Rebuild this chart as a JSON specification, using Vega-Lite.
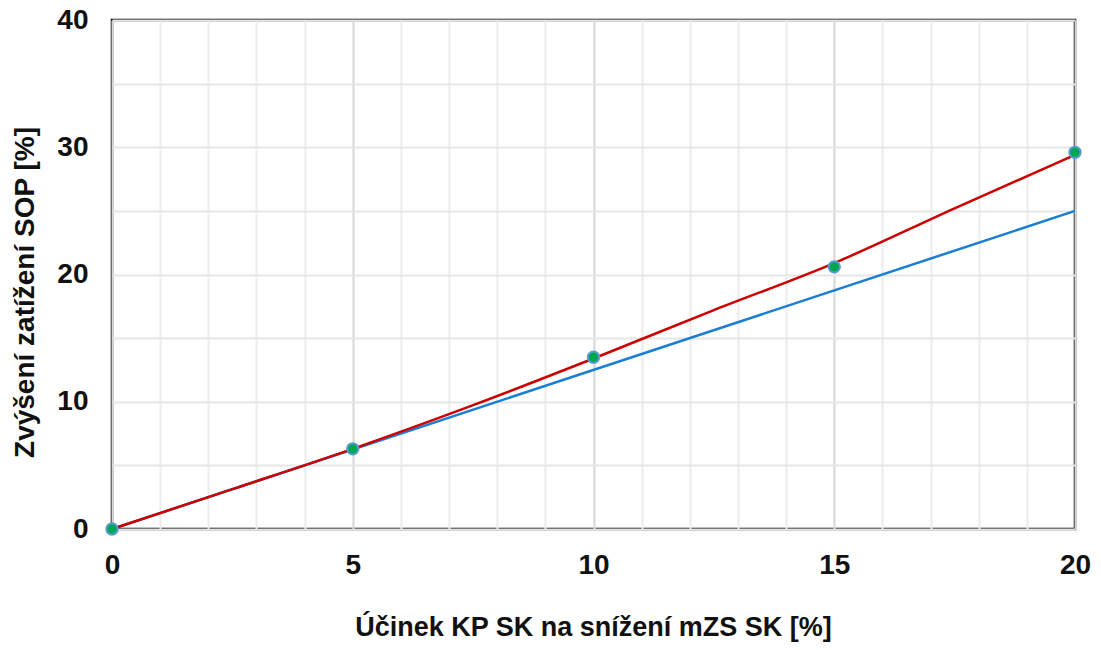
{
  "$schema": "https://vega.github.io/schema/vega-lite/v6.json",
  "autosize": "none",
  "width": 963,
  "height": 509,
  "padding": {"left": 112, "top": 20, "right": 26, "bottom": 121},
  "background": "white",
  "config": {
    "view": {"stroke": "#000000", "strokeWidth": 2.5},
    "font": "Liberation Sans",
    "axis": {
      "labelFont": "Liberation Sans",
      "titleFont": "Liberation Sans",
      "labelFontWeight": "bold",
      "titleFontWeight": "bold",
      "labelColor": "#111111",
      "titleColor": "#111111",
      "domain": false,
      "ticks": false,
      "tickSize": 0,
      "gridWidth": 2,
      "labelFlush": false,
      "labelOverlap": false
    }
  },
  "datasets": {
    "blue": [
      {"x": 0, "y": 0},
      {"x": 20, "y": 25}
    ],
    "red": [
      {"x": 0, "y": 0},
      {"x": 2.5, "y": 3.13},
      {"x": 5, "y": 6.3},
      {"x": 7.5, "y": 9.73},
      {"x": 10, "y": 13.4},
      {"x": 12.5, "y": 17.2},
      {"x": 15, "y": 20.9},
      {"x": 17.5, "y": 25.2},
      {"x": 20, "y": 29.4}
    ],
    "pts": [
      {"x": 0, "y": 0},
      {"x": 5, "y": 6.3},
      {"x": 10, "y": 13.5},
      {"x": 15, "y": 20.6},
      {"x": 20, "y": 29.6}
    ]
  },
  "layer": [
    {
      "data": {"name": "blue"},
      "mark": {"type": "line", "color": "#1a7fd4", "strokeWidth": 2.5, "clip": false},
      "encoding": {
        "x": {
          "field": "x", "type": "quantitative",
          "scale": {"domain": [0, 20], "nice": false, "zero": false},
          "axis": {
            "values": [0,1,2,3,4,5,6,7,8,9,10,11,12,13,14,15,16,17,18,19,20],
            "labelExpr": "datum.value % 5 === 0 ? datum.label : ''",
            "labelFontSize": 28,
            "labelPadding": 44,
            "labelBaseline": "alphabetic",
            "gridColor": {"condition": {"test": "datum.value % 5 === 0", "value": "#d6d6d6"}, "value": "#ececec"},
            "title": "Účinek KP SK na snížení mZS SK [%]",
            "titleFontSize": 27,
            "titleBaseline": "alphabetic",
            "titleY": 106,
            "titleX": 481
          }
        },
        "y": {
          "field": "y", "type": "quantitative",
          "scale": {"domain": [0, 40], "nice": false, "zero": false},
          "axis": {
            "values": [0,5,10,15,20,25,30,35,40],
            "labelExpr": "datum.value % 10 === 0 ? datum.label : ''",
            "labelFontSize": 28,
            "labelPadding": 24,
            "labelBaseline": "middle",
            "gridColor": "#e6e6e6",
            "title": "Zvýšení zatížení SOP [%]",
            "titleFontSize": 28,
            "titleAngle": -90,
            "titleAlign": "center",
            "titleBaseline": "middle",
            "titleX": -87,
            "titleY": 272
          }
        }
      }
    },
    {
      "data": {"name": "red"},
      "mark": {"type": "line", "color": "#cc0000", "strokeWidth": 2.5, "interpolate": "monotone", "clip": false},
      "encoding": {
        "x": {"field": "x", "type": "quantitative"},
        "y": {"field": "y", "type": "quantitative"}
      }
    },
    {
      "data": {"name": "pts"},
      "mark": {"type": "point", "filled": true, "fill": "#00a650", "stroke": "#5b9bd5", "strokeWidth": 2, "opacity": 1, "size": 130, "clip": false},
      "encoding": {
        "x": {"field": "x", "type": "quantitative"},
        "y": {"field": "y", "type": "quantitative"}
      }
    }
  ]
}
